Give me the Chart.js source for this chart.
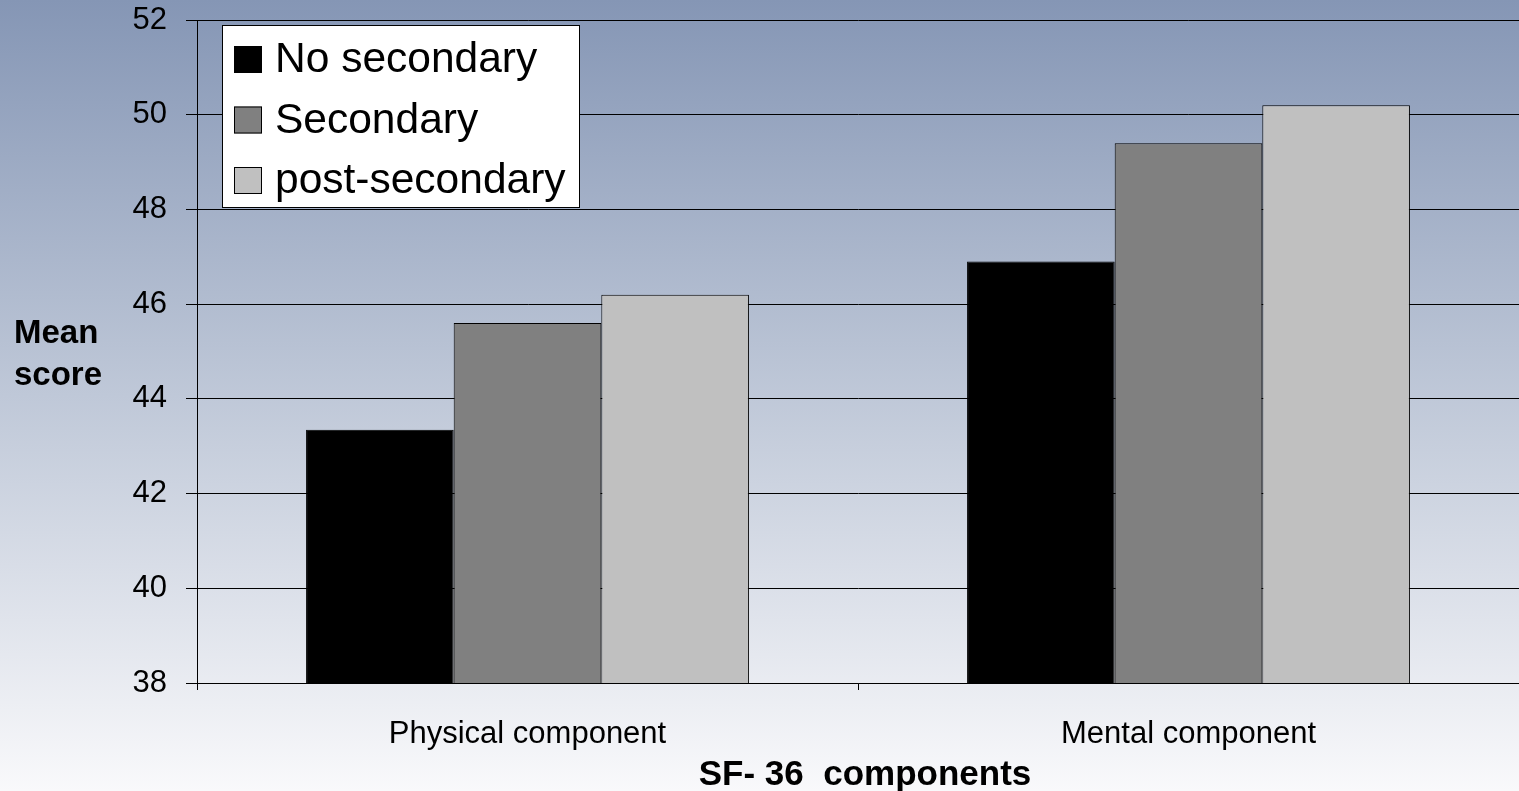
<!DOCTYPE html>
<html>
<head>
<meta charset="utf-8">
<script src="https://cdn.jsdelivr.net/npm/chart.js@4"></script>
<style>
  html, body { margin: 0; padding: 0; }
  body { width: 1519px; height: 791px; overflow: hidden; }
  #chart { display: block; }
</style>
</head>
<body>
<canvas id="chart" width="1519" height="791"></canvas>
<script>
// data
const categories = ['Physical component', 'Mental component'];
const seriesNames = ['No secondary', 'Secondary', 'post-secondary'];
const noSecondary = [43.35, 46.9];
const secondary = [45.6, 49.4];
const postSecondary = [46.2, 50.2];
const yTicks = [38, 40, 42, 44, 46, 48, 50, 52];
const xTitle = 'SF- 36  components';
const yTitle = ['Mean', 'score'];

const colors = ['#000000', '#808080', '#c0c0c0'];
const FONT = "'Liberation Sans', Arial, sans-serif";

// background gradient over the whole canvas
const bgPlugin = {
    id: 'bg',
    beforeDraw(chart) {
        const c = chart.ctx;
        const g = c.createLinearGradient(0, 0, 0, chart.height);
        g.addColorStop(0, '#8596b5');
        g.addColorStop(0.5, '#bfc8d8');
        g.addColorStop(1, '#f9f9fb');
        c.save();
        c.fillStyle = g;
        c.fillRect(0, 0, chart.width, chart.height);
        c.restore();
    }
};

// axis titles: y title sits flat in the left margin
const titlesPlugin = {
    id: 'titles',
    afterDraw(chart) {
        const c = chart.ctx;
        c.save();
        c.fillStyle = '#000';
        c.font = 'bold 33px ' + FONT;
        c.textAlign = 'left';
        c.textBaseline = 'alphabetic';
        c.fillText(yTitle[0], 14, 343);
        c.fillText(yTitle[1], 14, 385);
        c.font = 'bold 35px ' + FONT;
        c.textAlign = 'center';
        const xs = chart.scales.x;
        c.fillText(xTitle, (xs.left + xs.right) / 2 + 7, 785);
        c.restore();
    }
};

// boxed legend inside the plot
const legendPlugin = {
    id: 'boxlegend',
    afterDraw(chart) {
        const c = chart.ctx;
        c.save();
        c.fillStyle = '#ffffff';
        c.fillRect(222, 25, 357, 182);
        c.strokeStyle = '#000';
        c.lineWidth = 1;
        c.strokeRect(222.5, 25.5, 357, 182);
        c.font = '42.5px ' + FONT;
        c.textBaseline = 'alphabetic';
        chart.data.datasets.forEach((ds, i) => {
            const top = 46 + i * 60.5;
            c.fillStyle = ds.backgroundColor;
            c.fillRect(234, top, 28, 27);
            c.strokeStyle = '#000';
            c.strokeRect(234.5, top + 0.5, 27, 26);
            c.fillStyle = '#000';
            c.fillText(ds.label, 275, top + 26);
        });
        c.restore();
    }
};

new Chart(document.getElementById('chart'), {
    type: 'bar',
    data: {
        labels: categories,
        datasets: [
            { label: seriesNames[0], data: noSecondary, backgroundColor: colors[0] },
            { label: seriesNames[1], data: secondary, backgroundColor: colors[1] },
            { label: seriesNames[2], data: postSecondary, backgroundColor: colors[2] }
        ].map(d => Object.assign(d, {
            borderColor: '#000',
            borderWidth: 1,
            borderSkipped: 'bottom',
            categoryPercentage: 0.67,
            barPercentage: 1.0
        }))
    },
    options: {
        responsive: false,
        animation: false,
        layout: { padding: { top: 20, left: 0, right: 0, bottom: 0 } },
        plugins: {
            legend: { display: false },
            tooltip: { enabled: false }
        },
        scales: {
            x: {
                grid: {
                    offset: true,
                    drawOnChartArea: false,
                    drawTicks: true,
                    tickLength: 7,
                    color: '#000'
                },
                border: { color: '#000', width: 1 },
                ticks: {
                    color: '#000',
                    font: { family: FONT, size: 31 },
                    padding: 26,
                    maxRotation: 0
                },
                afterFit(scale) { scale.height = 108; }
            },
            y: {
                min: yTicks[0],
                max: yTicks[yTicks.length - 1],
                afterBuildTicks(scale) {
                    scale.ticks = yTicks.map(v => ({ value: v }));
                },
                grid: {
                    color: '#000',
                    lineWidth: 1,
                    tickLength: 11
                },
                border: { color: '#000', width: 1 },
                ticks: {
                    color: '#000',
                    // tiny line height so the top label does not push the plot down
                    font: { family: FONT, size: 31, lineHeight: 0.01 },
                    padding: 19
                },
                afterFit(scale) { scale.width = 197; }
            }
        }
    },
    plugins: [bgPlugin, titlesPlugin, legendPlugin]
});
</script>
</body>
</html>
